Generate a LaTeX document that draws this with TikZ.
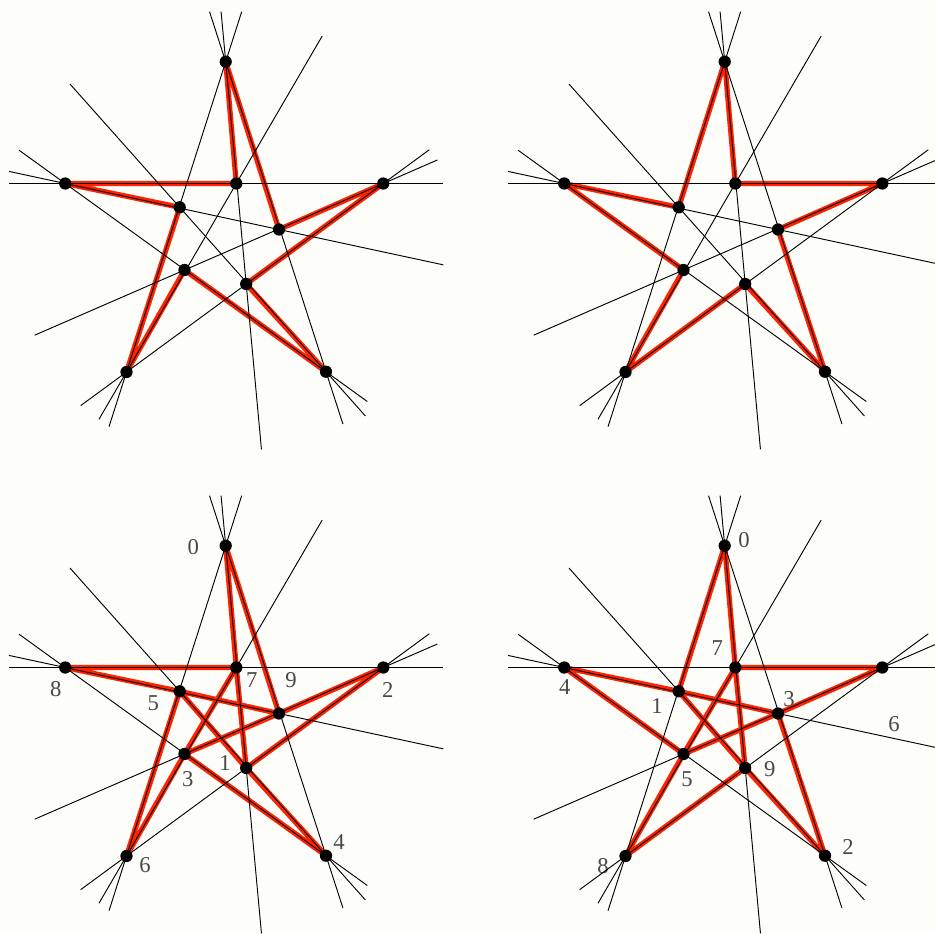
\documentclass[tikz,border=0pt]{standalone}
\usepackage{fontspec}
\setmainfont{Liberation Serif}
\usetikzlibrary{calc}
\definecolor{redline}{RGB}{255,34,0}
\definecolor{bgc}{RGB}{253,253,249}
\definecolor{labc}{RGB}{72,72,72}

\newcommand{\defpts}[3]{%
  \begin{scope}[shift={(#2,#3)}]
    \coordinate (#1p0) at (225.7,61.7);
    \coordinate (#1p8) at (65.2,183.5);
    \coordinate (#1p2) at (383.3,183.5);
    \coordinate (#1p6) at (126.5,372);
    \coordinate (#1p4) at (326,371.7);
    \coordinate (#1p7) at (236.3,183.5);
    \coordinate (#1p5) at (179.7,207.3);
    \coordinate (#1p9) at (279,229.5);
    \coordinate (#1p3) at (184.5,270);
    \coordinate (#1p1) at (246.2,284);
  \end{scope}}

\newcommand{\blines}[1]{%
  \draw[blk] ($(#1p8)!-0.1767!(#1p2)$) -- ($(#1p8)!1.1886!(#1p2)$);
  \draw[blk] ($(#1p0)!-0.2249!(#1p1)$) -- ($(#1p0)!1.7436!(#1p1)$);
  \draw[blk] ($(#1p0)!-0.1611!(#1p6)$) -- ($(#1p0)!1.1763!(#1p6)$);
  \draw[blk] ($(#1p0)!-0.1613!(#1p4)$) -- ($(#1p0)!1.1687!(#1p4)$);
  \draw[blk] ($(#1p8)!-0.2629!(#1p9)$) -- ($(#1p8)!1.7685!(#1p9)$);
  \draw[blk] ($(#1p8)!-0.1771!(#1p4)$) -- ($(#1p8)!1.1583!(#1p4)$);
  \draw[blk] ($(#1p2)!-0.2716!(#1p3)$) -- ($(#1p2)!1.7535!(#1p3)$);
  \draw[blk] ($(#1p2)!-0.1791!(#1p6)$) -- ($(#1p2)!1.1783!(#1p6)$);
  \draw[blk] ($(#1p6)!-0.2509!(#1p7)$) -- ($(#1p6)!1.7825!(#1p7)$);
  \draw[blk] ($(#1p4)!-0.2695!(#1p5)$) -- ($(#1p4)!1.75!(#1p5)$);
}

\newcommand{\bdots}[1]{%
  \foreach \k in {0,...,9} {\fill[black] (#1p\k) circle[radius=4.6pt];}
}

\begin{document}
\begin{tikzpicture}[x=0.75pt,y=-0.75pt,
  blk/.style={black,line width=0.7pt},
  redpath/.style={redline,line width=3.9pt,line join=round,line cap=round},
  lab/.style={text=labc,inner sep=0pt,font=\fontsize{17}{19}\selectfont}]
\useasboundingbox (0,0) rectangle (935,933);
\fill[bgc] (0,0) rectangle (935,933);
\clip (0,0) rectangle (935,933);

\defpts{A}{0}{0}
\defpts{B}{499}{0}
\defpts{C}{0}{484}
\defpts{D}{499}{484}

% labels, panel 3
\node[lab] (c0) at (193.3,547.3) {0};
\node[lab] (c8) at (55.7,688.7) {8};
\node[lab] (c5) at (153.3,703) {5};
\node[lab] (c7) at (251.7,680.3) {7};
\node[lab] (c9) at (291,680.3) {9};
\node[lab] (c2) at (387.7,690.3) {2};
\node[lab] (c3) at (187.7,778.7) {3};
\node[lab] (c1) at (225,763) {1};
\node[lab] (c6) at (145,865.3) {6};
\node[lab] (c4) at (339,842) {4};
% labels, panel 4
\node[lab] (d0) at (744,540.3) {0};
\node[lab] (d7) at (717.3,647.7) {7};
\node[lab] (d4) at (564.7,687) {4};
\node[lab] (d1) at (657,706) {1};
\node[lab] (d3) at (789,698.7) {3};
\node[lab] (d6) at (894,723.7) {6};
\node[lab] (d5) at (687,778.7) {5};
\node[lab] (d9) at (769.7,768.7) {9};
\node[lab] (d2) at (848,847) {2};
\node[lab] (d8) at (603,866.3) {8};

% red closed paths
\draw[redpath] (Ap0) -- (Ap7) -- (Ap8) -- (Ap5) -- (Ap6) -- (Ap3) -- (Ap4) -- (Ap1) -- (Ap2) -- (Ap9) -- cycle;
\draw[redpath] (Bp0) -- (Bp7) -- (Bp2) -- (Bp9) -- (Bp4) -- (Bp1) -- (Bp6) -- (Bp3) -- (Bp8) -- (Bp5) -- cycle;
\draw[redpath] (Cp0) -- (Cp7) -- (Cp1) -- (Cp2) -- (Cp9) -- (Cp3) -- (Cp4) -- (Cp1) -- (Cp5) -- (Cp6) -- (Cp3) -- (Cp7) -- (Cp8) -- (Cp5) -- (Cp9) -- cycle;
\draw[redpath] (Dp0) -- (Dp5) -- (Dp1) -- (Dp4) -- (Dp9) -- (Dp5) -- (Dp8) -- (Dp3) -- (Dp9) -- (Dp2) -- (Dp7) -- (Dp3) -- (Dp6) -- (Dp1) -- (Dp7) -- cycle;

% black lines
\blines{A}
\blines{B}
\blines{C}
\blines{D}

% points
\bdots{A}
\bdots{B}
\bdots{C}
\bdots{D}
\end{tikzpicture}
\end{document}
